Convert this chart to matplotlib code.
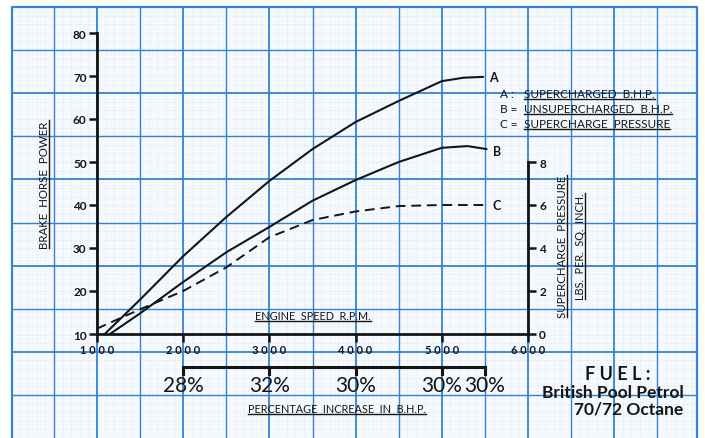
import numpy as np
import matplotlib.pyplot as plt
import matplotlib.transforms as mtransforms
from matplotlib.lines import Line2D
from matplotlib.patches import Rectangle

plt.rcParams['font.family'] = ['Lato', 'DejaVu Sans']

# values
rpm_a = [1090, 1500, 2000, 2500, 3000, 3500, 4000, 4500, 5000, 5250, 5480]
bhp_a = [10, 18.0, 28.1, 37.2, 45.6, 53.0, 59.3, 64.2, 68.8, 69.6, 69.8]
rpm_b = [1150, 1500, 2000, 2500, 3000, 3500, 4000, 4500, 5000, 5300, 5520]
bhp_b = [10, 14.8, 22.1, 29.0, 34.9, 41.0, 45.8, 50.0, 53.3, 53.7, 53.0]
rpm_c = [1000, 1500, 2000, 2500, 3000, 3500, 4000, 4500, 5000, 5500]
psi_c = [0.25, 1.15, 2.0, 3.1, 4.5, 5.3, 5.7, 5.95, 6.0, 6.0]

rpm_ticks = [1000, 2000, 3000, 4000, 5000, 6000]
bhp_ticks = [10, 20, 30, 40, 50, 60, 70, 80]
psi_ticks = [0, 2, 4, 6, 8]
pct_rpm = [2000, 3000, 4000, 5000, 5500]
pct_labels = ['28%', '32%', '30%', '30%', '30%']
legend_keys = ['A :', 'B =', 'C =']
legend_names = ['SUPERCHARGED  B.H.P.', 'UNSUPERCHARGED  B.H.P.', 'SUPERCHARGE  PRESSURE']

W, H = 705, 439
INK = '#151515'
BLUE = '#3383d2'

fig = plt.figure(figsize=(W / 100, H / 100), dpi=100)
fig.patch.set_facecolor('white')

# graph paper background, in pixel coordinates
bg = fig.add_axes([0, 0, 1, 1])
bg.set_xlim(0, W)
bg.set_ylim(H, 0)
bg.axis('off')
bg.add_patch(Rectangle((12, 8), 685, 440, facecolor='#f5f9fd', edgecolor='none'))
step = 43.1
for x in np.arange(10.8 + step / 5, 697, step / 5):
    bg.plot([x, x], [8, H], color='#c3d0dc', lw=0.5, ls=(0, (1, 3)))
for y in np.arange(8 + step / 5, H, step / 5):
    bg.plot([12, 697], [y, y], color='#c3d0dc', lw=0.5, ls=(0, (1, 3)))
for i, x in enumerate(np.arange(10.8 + step, 690, step)):
    bg.plot([x, x], [8, H], color=BLUE, lw=1.3 if i % 2 else 1.0)
for i, y in enumerate(np.arange(8 + step, H, step)):
    bg.plot([12, 697], [y, y], color=BLUE, lw=1.3 if i % 2 else 1.0)
bg.plot([12, 12, 697, 697], [H, 8, 8, H], color=BLUE, lw=1.6)

# main axes: brake horse power vs engine speed
ax = fig.add_axes([97 / W, 1 - 335 / H, 431 / W, 301 / H])
ax.set_facecolor('none')
ax.set_xlim(1000, 6000)
ax.set_ylim(10, 80)
for s in ['top', 'right']:
    ax.spines[s].set_visible(False)
for s in ['left', 'bottom']:
    ax.spines[s].set_linewidth(2.0)
    ax.spines[s].set_color(INK)
ax.set_xticks(rpm_ticks)
ax.set_yticks(bhp_ticks)
ax.tick_params(axis='both', direction='out', length=6, width=1.8, color=INK,
               labelsize=8.5, labelcolor=INK, pad=1.5)
ax.set_xticklabels([' '.join(str(v)) for v in rpm_ticks], fontweight='bold',
                   fontsize=8)
ax.set_yticklabels([str(v) for v in bhp_ticks], fontweight='bold')

ax.plot(rpm_a, bhp_a, color=INK, lw=1.5, solid_capstyle='round')
ax.plot(rpm_b, bhp_b, color=INK, lw=1.5, solid_capstyle='round')

# supercharge pressure on the right hand scale
ax2 = ax.twinx()
ax2.set_ylim(0, 14)
for s in ['top', 'left', 'bottom']:
    ax2.spines[s].set_visible(False)
ax2.spines['right'].set_bounds(0, 8)
ax2.spines['right'].set_linewidth(2.0)
ax2.spines['right'].set_color(INK)
ax2.set_yticks(psi_ticks)
ax2.set_yticklabels([str(v) for v in psi_ticks], fontweight='bold')
ax2.tick_params(axis='y', direction='out', length=6, width=1.8, color=INK,
                labelsize=8.5, labelcolor=INK, pad=2)
ax2.plot(rpm_c, psi_c, color=INK, lw=1.4, ls=(0, (5, 3)))

ax.annotate('A', (rpm_a[-1], bhp_a[-1]), xytext=(6, 0), textcoords='offset pixels',
            va='center', fontsize=9, fontweight='bold', color=INK)
ax.annotate('B', (rpm_b[-1], bhp_b[-1]), xytext=(6, -2), textcoords='offset pixels',
            va='center', fontsize=9, fontweight='bold', color=INK)
ax2.annotate('C', (rpm_c[-1], psi_c[-1]), xytext=(8, 0), textcoords='offset pixels',
             va='center', fontsize=9, fontweight='bold', color=INK)

# percentage increase bracket (x from rpm scale, y in pixels)
blend = mtransforms.blended_transform_factory(ax.transData, bg.transData)
bg.plot([pct_rpm[0], pct_rpm[-1]], [368, 368], color=INK, lw=2.2, transform=blend)
for r, lab in zip(pct_rpm, pct_labels):
    bg.plot([r, r], [368, 375], color=INK, lw=2.2, transform=blend)
    bg.text(r, 386, lab, transform=blend, ha='center', va='center',
            fontsize=15, color=INK)

under = []
under.append(bg.text(313, 317, 'ENGINE  SPEED  R.P.M.', ha='center', va='center',
                     fontsize=7.8, color=INK))
under.append(bg.text(337, 410, 'PERCENTAGE  INCREASE  IN  B.H.P.', ha='center',
                     va='center', fontsize=7.8, color=INK))
side = []
side.append(bg.text(44, 185, 'BRAKE  HORSE  POWER', rotation=90, ha='center',
                    va='center', fontsize=8.3, color=INK))
side.append(bg.text(562, 247, 'SUPERCHARGE  PRESSURE', rotation=90, ha='center',
                    va='center', fontsize=8.3, color=INK))
side.append(bg.text(580, 247, 'LBS.  PER.  SQ.  INCH.', rotation=90, ha='center',
                    va='center', fontsize=7.8, color=INK))

for i, (k, n) in enumerate(zip(legend_keys, legend_names)):
    y = 95 + i * 15
    bg.text(500, y, k, ha='left', va='center', fontsize=8.5, color=INK)
    under.append(bg.text(524, y, n, ha='left', va='center', fontsize=8.5,
                         color=INK))

bg.text(618, 375, 'F U E L :', ha='center', va='center', fontsize=13,
        fontweight='bold', color=INK)
bg.text(613, 393, 'British Pool Petrol', ha='center', va='center', fontsize=12.5,
        fontweight='bold', color=INK)
bg.text(629, 410, '70/72 Octane', ha='center', va='center', fontsize=12.5,
        fontweight='bold', color=INK)

# underlines measured from the rendered text
fig.canvas.draw()
renderer = fig.canvas.get_renderer()
ident = mtransforms.IdentityTransform()
for t in under:
    bb = t.get_window_extent(renderer)
    fig.add_artist(Line2D([bb.x0, bb.x1], [bb.y0 + 0.5, bb.y0 + 0.5], color=INK,
                          lw=1.0, transform=ident))
for t in side:
    bb = t.get_window_extent(renderer)
    fig.add_artist(Line2D([bb.x1 - 0.5, bb.x1 - 0.5], [bb.y0, bb.y1], color=INK,
                          lw=1.0, transform=ident))

fig.savefig('out.png', dpi=100)
